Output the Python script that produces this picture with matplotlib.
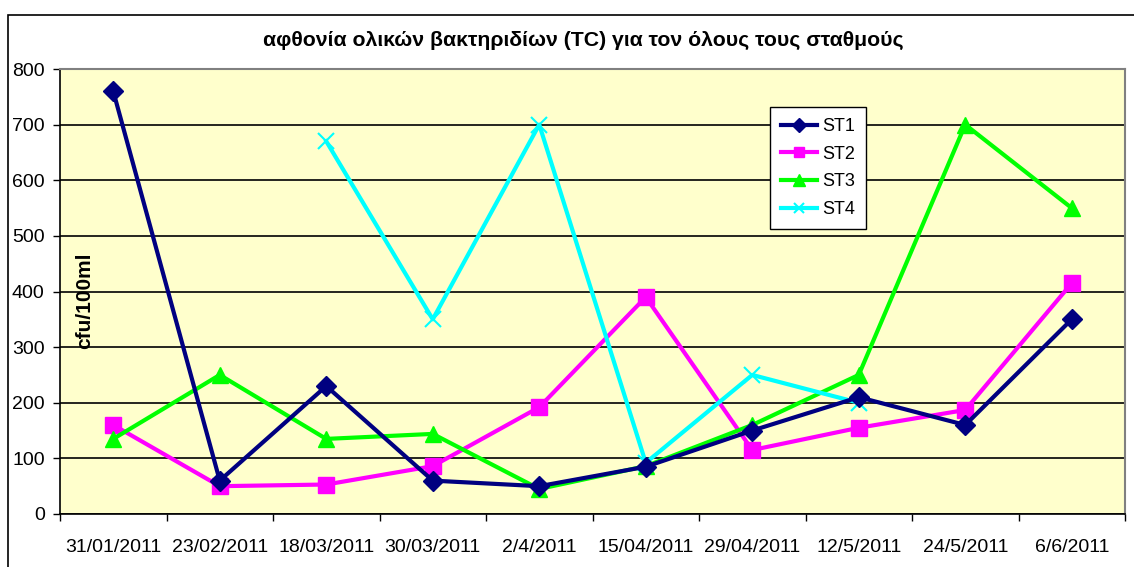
import matplotlib.pyplot as plt
import matplotlib.patches as patches
import numpy as np

plt.rcParams['font.family'] = ['Liberation Sans', 'DejaVu Sans']

dates = ['31/01/2011', '23/02/2011', '18/03/2011', '30/03/2011', '2/4/2011',
         '15/04/2011', '29/04/2011', '12/5/2011', '24/5/2011', '6/6/2011']

st1 = [760, 60, 230, 60, 50, 85, 150, 210, 160, 350]
st2 = [160, 50, 53, 86, 192, 390, 115, 155, 187, 415]
st3 = [135, 250, 135, 144, 45, 86, 160, 250, 700, 550]
st4 = [np.nan, np.nan, 670, 350, 700, 92, 250, 200, np.nan, np.nan]

yticks = [0, 100, 200, 300, 400, 500, 600, 700, 800]

W, H = 1134, 567
fig = plt.figure(figsize=(W / 100, H / 100), dpi=100)
ax = fig.add_axes([60 / W, 1 - 514 / H, (1125 - 60) / W, (514 - 69) / H])
ax.set_facecolor('#FFFFCC')

x = np.arange(len(dates))
ax.plot(x, st1, color='#000080', lw=3, marker='D', ms=10, label='ST1', zorder=4)
ax.plot(x, st2, color='#FF00FF', lw=3, marker='s', ms=11, label='ST2', zorder=3)
ax.plot(x, st3, color='#00FF00', lw=3, marker='^', ms=12, label='ST3', zorder=3)
ax.plot(x, st4, color='#00FFFF', lw=3, marker='x', ms=11, mew=1.5, label='ST4', zorder=3)

ax.set_ylim(0, 800)
ax.set_yticks(yticks)
ax.yaxis.grid(True, color='black', lw=1.2)
ax.set_axisbelow(True)
ax.tick_params(axis='y', labelsize=14, length=5, width=1, pad=6, direction='out')

ax.set_xlim(-0.5, len(dates) - 0.5)
ax.set_xticks(np.arange(-0.5, len(dates), 1.0))
ax.set_xticklabels([])
ax.set_xticks(x, minor=True)
ax.set_xticklabels(dates, minor=True)
ax.tick_params(axis='x', which='major', length=5, width=1, direction='out')
ax.tick_params(axis='x', which='minor', length=0, labelsize=14, pad=18)

for s in ['top', 'right']:
    ax.spines[s].set_color('#808080')
    ax.spines[s].set_linewidth(1.5)
for s in ['left', 'bottom']:
    ax.spines[s].set_color('black')
    ax.spines[s].set_linewidth(1.2)

fig.text(583 / W, 1 - 40 / H, 'αφθονία ολικών βακτηριδίων (TC) για τον όλους τους σταθμούς',
         ha='center', va='center', fontsize=15.3, fontweight='bold')
fig.text(85 / W, 1 - 301 / H, 'cfu/100ml', rotation=90, ha='center', va='center',
         fontsize=15, fontweight='bold')

leg = ax.legend(loc='upper left', bbox_to_anchor=(770 / W, 1 - 107 / H),
                bbox_transform=fig.transFigure, fontsize=13, frameon=True,
                fancybox=False, edgecolor='black', framealpha=1,
                handlelength=2.0, handletextpad=0.3, labelspacing=0.6,
                borderpad=0.6, borderaxespad=0, markerscale=0.7)
leg.get_frame().set_linewidth(1)

# chart area border
fig.patches.append(patches.Rectangle((8 / W, -0.1), 1.2, 1.1 - 15 / H, transform=fig.transFigure,
                                     fill=False, edgecolor='black', lw=1.2))

fig.savefig('out.png', dpi=100)
